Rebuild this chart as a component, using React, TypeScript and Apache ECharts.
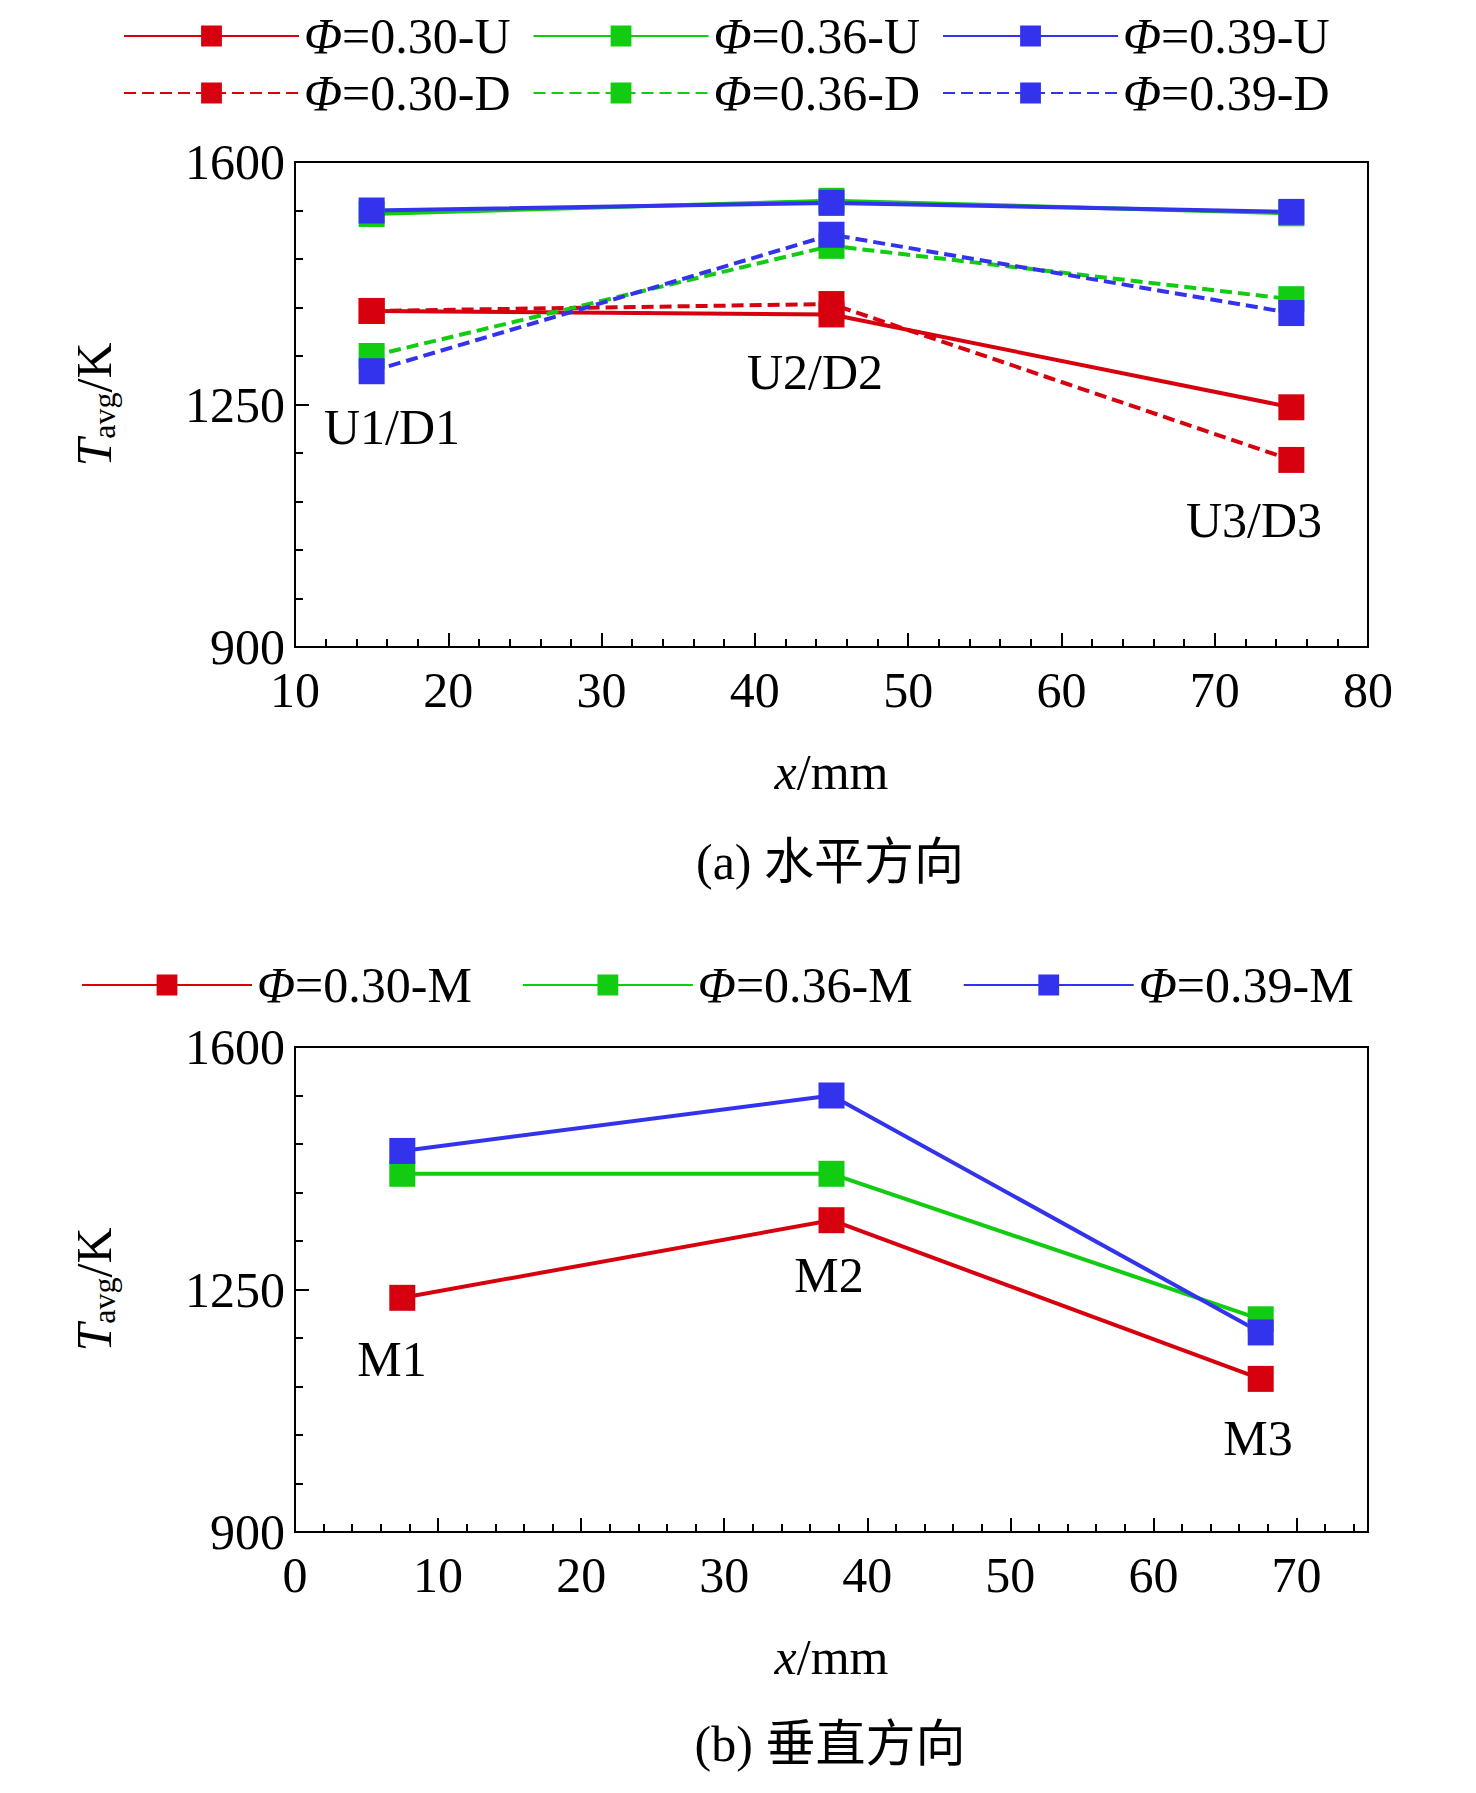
import React, { useEffect, useRef } from 'react';
import * as echarts from 'echarts';

// 水平方向 (a)
const xTop = [15, 45, 75];
const u030 = [1385, 1380, 1246];
const d030 = [1385, 1395, 1170];
const u036 = [1525, 1544, 1526];
const d036 = [1320, 1479, 1402];
const u039 = [1530, 1541, 1528];
const d039 = [1298, 1495, 1382];

// 垂直方向 (b)
const xBottom = [7.5, 37.5, 67.5];
const m030 = [1238, 1350, 1121];
const m036 = [1417, 1417, 1207];
const m039 = [1450, 1530, 1188];

const RED = '#d7000f';
const GREEN = '#11cc11';
const BLUE = '#3333ee';
const FONT = '"Liberation Serif", "Times New Roman", serif';
const CAP = '"Liberation Serif", "Noto Sans CJK SC", serif';

const pairs = (xs: number[], ys: number[]) => xs.map((x, i) => [x, ys[i]]);

const App: React.FC = () => {
  const ref = useRef<HTMLDivElement>(null);

  useEffect(() => {
    if (!ref.current) return;
    const chart = echarts.init(ref.current, undefined, { renderer: 'svg' });

    const rich = {
      i: { fontStyle: 'italic', fontFamily: FONT, fontSize: 50, color: '#000' },
    };
    const legendBase = {
      itemWidth: 175,
      itemHeight: 26,
      itemGap: 22,
      textStyle: { fontFamily: FONT, fontSize: 50, color: '#000', rich },
      formatter: (name: string) => `{i|Φ}${name.replace('Φ', '')}`,
    };

    const mkSeries = (
      name: string,
      xs: number[],
      ys: number[],
      color: string,
      dashed: boolean,
      idx: number,
    ) => ({
      name,
      type: 'line',
      xAxisIndex: idx,
      yAxisIndex: idx,
      data: pairs(xs, ys),
      symbol: 'rect',
      symbolSize: 26,
      itemStyle: { color },
      lineStyle: { color, width: 4, type: dashed ? [12, 6] : 'solid' },
    });

    const xAxisBase = {
      type: 'value',
      axisLine: { lineStyle: { color: '#000', width: 2 } },
      axisTick: { inside: true, length: 14, lineStyle: { color: '#000', width: 2 } },
      minorTick: { show: true, splitNumber: 5, length: 8, lineStyle: { color: '#000', width: 2 } },
      splitLine: { show: false },
      axisLabel: { fontFamily: FONT, fontSize: 50, color: '#000', margin: 18 },
      nameLocation: 'middle',
      nameGap: 100,
      name: '{i|x}/mm',
      nameTextStyle: {
        fontFamily: FONT,
        fontSize: 50,
        color: '#000',
        rich: { i: { fontStyle: 'italic', fontFamily: FONT, fontSize: 50 } },
      },
    };
    const yAxisBase = {
      type: 'value',
      min: 900,
      max: 1600,
      interval: 350,
      axisLine: { lineStyle: { color: '#000', width: 2 } },
      axisTick: { inside: true, length: 14, lineStyle: { color: '#000', width: 2 } },
      minorTick: { show: true, splitNumber: 5, length: 8, lineStyle: { color: '#000', width: 2 } },
      splitLine: { show: false },
      axisLabel: { fontFamily: FONT, fontSize: 50, color: '#000', margin: 10, formatter: (v: number) => String(v) },
      nameLocation: 'middle',
      nameGap: 175,
      name: '{t|T}{s|avg}/K',
      nameTextStyle: {
        fontFamily: FONT,
        fontSize: 50,
        color: '#000',
        rich: {
          t: { fontStyle: 'italic', fontFamily: FONT, fontSize: 50 },
          s: { fontFamily: FONT, fontSize: 32, padding: [20, 0, 0, 0] },
        },
      },
    };

    const txt = (x: number, y: number, text: string, font = FONT) => ({
      type: 'text',
      x,
      y,
      style: { text, fontFamily: font, fontSize: 50, fill: '#000', align: 'center', verticalAlign: 'middle' },
    });

    chart.setOption({
      animation: false,
      legend: [
        { ...legendBase, left: 118, top: 6, data: ['Φ=0.30-U', 'Φ=0.36-U', 'Φ=0.39-U'] },
        { ...legendBase, left: 118, top: 63, data: ['Φ=0.30-D', 'Φ=0.36-D', 'Φ=0.39-D'] },
        { ...legendBase, left: 76, top: 955, itemWidth: 170, itemGap: 50, data: ['Φ=0.30-M', 'Φ=0.36-M', 'Φ=0.39-M'] },
      ],
      grid: [
        { left: 295, width: 1073, top: 162, height: 485, show: true, borderColor: '#000', borderWidth: 2 },
        { left: 295, width: 1073, top: 1047, height: 485, show: true, borderColor: '#000', borderWidth: 2 },
      ],
      xAxis: [
        { ...xAxisBase, gridIndex: 0, min: 10, max: 80, interval: 10 },
        { ...xAxisBase, gridIndex: 1, min: 0, max: 75, interval: 10, axisLabel: { ...xAxisBase.axisLabel, showMaxLabel: false } },
      ],
      yAxis: [
        { ...yAxisBase, gridIndex: 0 },
        { ...yAxisBase, gridIndex: 1 },
      ],
      series: [
        mkSeries('Φ=0.30-U', xTop, u030, RED, false, 0),
        mkSeries('Φ=0.36-U', xTop, u036, GREEN, false, 0),
        mkSeries('Φ=0.39-U', xTop, u039, BLUE, false, 0),
        mkSeries('Φ=0.30-D', xTop, d030, RED, true, 0),
        mkSeries('Φ=0.36-D', xTop, d036, GREEN, true, 0),
        mkSeries('Φ=0.39-D', xTop, d039, BLUE, true, 0),
        mkSeries('Φ=0.30-M', xBottom, m030, RED, false, 1),
        mkSeries('Φ=0.36-M', xBottom, m036, GREEN, false, 1),
        mkSeries('Φ=0.39-M', xBottom, m039, BLUE, false, 1),
      ],
      graphic: [
        txt(392, 427, 'U1/D1'),
        txt(815, 372, 'U2/D2'),
        txt(1254, 520, 'U3/D3'),
        txt(830, 862, '(a) 水平方向', CAP),
        txt(392, 1359, 'M1'),
        txt(829, 1275, 'M2'),
        txt(1258, 1438, 'M3'),
        txt(830, 1744, '(b) 垂直方向', CAP),
      ],
    });

    return () => chart.dispose();
  }, []);

  return (
    <div
      ref={ref}
      style={{ position: 'absolute', left: 0, top: 0, width: 1476, height: 1793, background: '#fff' }}
    />
  );
};

export default App;
